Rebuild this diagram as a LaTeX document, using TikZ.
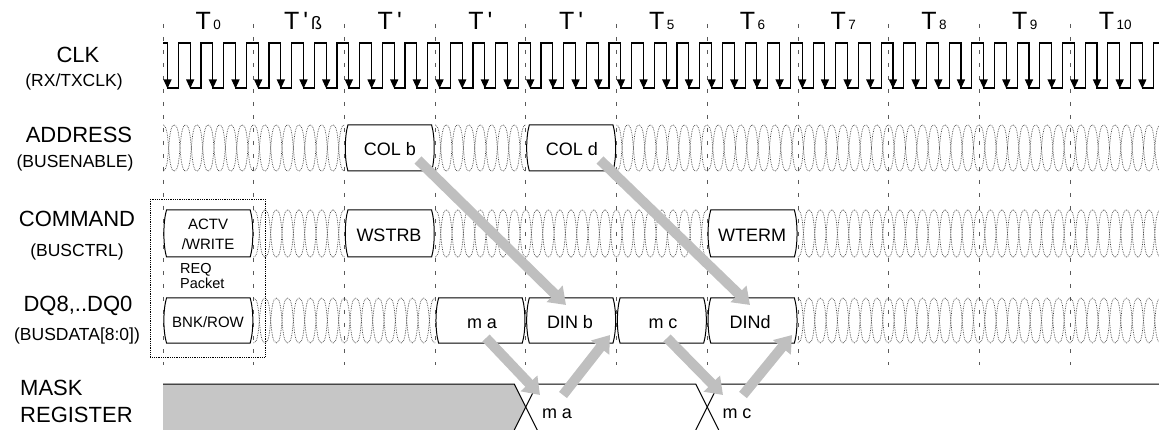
\documentclass[tikz,border=0pt]{standalone}
\usepackage{fontspec}
\setmainfont{Liberation Sans}
\usetikzlibrary{arrows.meta,calc}
\newcommand\hatchseg[4]{%
 \begin{scope}
 \clip (#3,#1-2) rectangle (#4,#2+2);
 \pgfmathtruncatemacro\ia{(#3-163)/11.335-1}
 \pgfmathtruncatemacro\ib{(#4-163)/11.335+1}
 \foreach \i in {\ia,...,\ib}{
   \pgfmathsetmacro\xa{163+\i*11.335}
   \pgfmathsetmacro\xb{\xa+11.335}
   \draw[hatchline] (\xa,#1) .. controls (\xa+7.5,#1) and (\xb-7.5,#2) .. (\xb,#2);
   \draw[hatchline] (\xa,#2) .. controls (\xa+7.5,#2) and (\xb-7.5,#1) .. (\xb,#1);
 }
 \end{scope}}
\newcommand\busbox[4]{% #1 xa #2 xb #3 top #4 bottom
 \draw[busline] (#1+3.5,#3) -- (#2-3.5,#3) .. controls (#2,#3+12) and (#2,#4-12) .. (#2-3.5,#4)
   -- (#1+3.5,#4) .. controls (#1,#4-12) and (#1,#3+12) .. cycle;}
\begin{document}
\begin{tikzpicture}[x=1pt,y=-1pt,
  lbl/.style={font=\fontsize{22}{24}\selectfont, inner sep=0pt, anchor=base},
  sublbl/.style={font=\fontsize{17.5}{19}\selectfont, inner sep=0pt, anchor=base},
  boxtxt/.style={font=\fontsize{18}{20}\selectfont, inner sep=0pt, anchor=base},
  smalltxt/.style={font=\fontsize{15}{16}\selectfont, inner sep=0pt, anchor=base},
  reqtxt/.style={font=\fontsize{14.5}{15}\selectfont, inner sep=0pt, anchor=base west},
  tlbl/.style={font=\fontsize{25}{26}\selectfont, inner sep=0pt, anchor=base},
  tick/.style={dash pattern=on 4pt off 9pt, black!65, line width=0.8pt},
  wave/.style={line width=1.1pt, black},
  busline/.style={line width=1pt, black},
  hatchline/.style={densely dotted, line width=0.7pt, black!75},
  fat/.style={line width=10pt, draw=gray!50, -{Triangle[width=22pt,length=16pt]}}]
\useasboundingbox (0,0) rectangle (1159,430);
\clip (0,0) rectangle (1159,430);
% vertical time ticks
\foreach \k in {0,...,10} \draw[tick] ({163+90.7*\k},24) -- ({163+90.7*\k},365);
% time labels
\newcommand\sub[1]{\hspace{2.5pt}{\fontsize{13.5}{13.5}\selectfont #1}}
\node[tlbl] (t0) at ({163+90.7*0.5},30) {T\sub{0}};
\node[tlbl] (t1) at ({163+90.7*1.5+4},30) {T\hspace{4pt}\textquotesingle\hspace{3pt}{\fontsize{18}{18}\selectfont ß}};
\node[tlbl] (t2) at ({163+90.7*2.5},30) {T\hspace{4pt}\textquotesingle};
\node[tlbl] (t3) at ({163+90.7*3.5},30) {T\hspace{4pt}\textquotesingle};
\node[tlbl] (t4) at ({163+90.7*4.5},30) {T\hspace{4pt}\textquotesingle};
\node[tlbl] (t5) at ({163+90.7*5.5},30) {T\sub{5}};
\node[tlbl] (t6) at ({163+90.7*6.5},30) {T\sub{6}};
\node[tlbl] (t7) at ({163+90.7*7.5},30) {T\sub{7}};
\node[tlbl] (t8) at ({163+90.7*8.5},30) {T\sub{8}};
\node[tlbl] (t9) at ({163+90.7*9.5},30) {T\sub{9}};
\node[tlbl] (t10) at ({163+90.7*10.5},30) {T\sub{10}};
% row labels
\node[lbl] (clk) at (78,63) {CLK};
\node[sublbl] (clks) at (74,87) {(RX/TXCLK)};
\node[lbl] (addr) at (79,143) {ADDRESS};
\node[sublbl] (addrs) at (75,168) {(BUSENABLE)};
\node[lbl] (cmd) at (77,227) {COMMAND};
\node[sublbl] (cmds) at (77,257) {(BUSCTRL)};
\node[lbl] (dq) at (78,312) {DQ8,..DQ0};
\node[sublbl] (dqs) at (77,340) {(BUSDATA[8:0])};
\node[lbl, anchor=base west] (mask) at (20,395) {MASK};
\node[lbl, anchor=base west] (maskr) at (20,422) {REGISTER};
% clock
\draw[wave] (163,43) \foreach \k in {0,...,43} { -- ({167.5+\k*22.67},43) -- ({167.5+\k*22.67},88) -- ({178.3+\k*22.67},88) -- ({178.3+\k*22.67},43) } -- (1159,43);
\foreach \k in {0,...,43} \draw[line width=1.1pt, -{Triangle[width=8pt,length=9pt]}] ({167.5+\k*22.67},60) -- ({167.5+\k*22.67},88.5);
% invalid bus hatching
\hatchseg{125}{171}{163}{344.4}
\hatchseg{125}{171}{435.1}{525.8}
\hatchseg{125}{171}{616.5}{1159}
\hatchseg{210}{257}{253.7}{344.4}
\hatchseg{210}{257}{435.1}{707.2}
\hatchseg{210}{257}{797.9}{1159}
\hatchseg{298}{343}{253.7}{435.1}
\hatchseg{298}{343}{797.9}{1159}
% valid bus boxes
\busbox{344.4}{435.1}{125}{171}
\busbox{525.8}{616.5}{125}{171}
\busbox{163}{253.7}{210}{257}
\busbox{344.4}{435.1}{210}{257}
\busbox{707.2}{797.9}{210}{257}
\busbox{163}{253.7}{298}{343}
\busbox{435.1}{525.8}{298}{343}
\busbox{525.8}{616.5}{298}{343}
\busbox{616.5}{707.2}{298}{343}
\busbox{707.2}{797.9}{298}{343}
% box texts
\node[boxtxt] (colb) at (390,156) {COL b};
\node[boxtxt] (cold) at (572,156) {COL d};
\node[smalltxt] (actv) at (208,230) {ACTV};
\node[smalltxt] (write) at (208,250) {/WRITE};
\node[boxtxt] (wstrb) at (389,242) {WSTRB};
\node[boxtxt] (wterm) at (752,242) {WTERM};
\node[smalltxt] (bnk) at (208,327) {BNK/ROW};
\node[boxtxt] (ma) at (482,328) {m a};
\node[boxtxt] (dinb) at (570,328) {DIN b};
\node[boxtxt] (mc) at (663,328) {m c};
\node[boxtxt] (dind) at (750,328) {DINd};
\node[reqtxt] (req) at (180,273.5) {REQ};
\node[reqtxt] (pkt) at (180,288.5) {Packet};
% request packet frame
\draw[densely dotted, line width=0.8pt] (150,199) rectangle (265,357);
% mask register
\fill[gray!45] (163,384) -- (514.3,384) -- (525.8,407) -- (514.3,430) -- (163,430) -- cycle;
\draw[busline] (163,384) -- (514.3,384) -- (537.3,430);
\draw[busline] (514.3,430) -- (537.3,384) -- (695.7,384) -- (718.7,430);
\draw[busline] (695.7,430) -- (718.7,384) -- (1159,384);
\node[boxtxt] (mma) at (557,418) {m a};
\node[boxtxt] (mmc) at (737,418) {m c};
% transfer arrows
\coordinate (a1s) at (418,160); \coordinate (a1e) at (566,305);
\coordinate (a2s) at (600,160); \coordinate (a2e) at (750,305);
\coordinate (a3s) at (486,338); \coordinate (a3e) at (540,395);
\coordinate (a4s) at (563,395); \coordinate (a4e) at (610,335);
\coordinate (a5s) at (667,338); \coordinate (a5e) at (723,395);
\coordinate (a6s) at (743,395); \coordinate (a6e) at (792,335);
\draw[fat] (a1s) -- (a1e);
\draw[fat] (a2s) -- (a2e);
\draw[fat] (a3s) -- (a3e);
\draw[fat] (a4s) -- (a4e);
\draw[fat] (a5s) -- (a5e);
\draw[fat] (a6s) -- (a6e);
\end{tikzpicture}
\end{document}
